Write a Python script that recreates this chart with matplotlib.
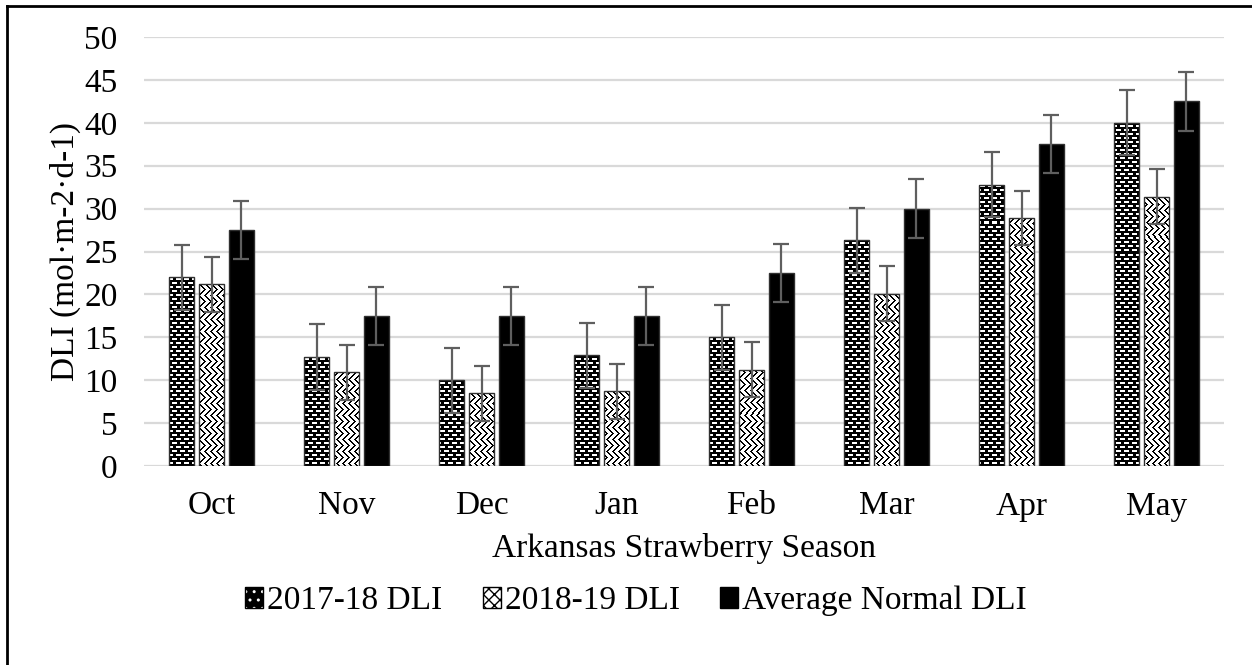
import numpy as np
import matplotlib
matplotlib.use('Agg')
import matplotlib.pyplot as plt
from matplotlib.patches import Rectangle
from matplotlib.lines import Line2D
from matplotlib.legend_handler import HandlerTuple

plt.rcParams['font.family'] = ['Liberation Serif', 'DejaVu Serif']

meses = ['Oct', 'Nov', 'Dec', 'Jan', 'Feb', 'Mar', 'Apr', 'May']
dli_1718 = [22.0, 12.7, 10.0, 12.9, 15.0, 26.3, 32.8, 40.0]
dli_1819 = [21.2, 10.9, 8.5, 8.7, 11.2, 20.1, 28.9, 31.4]
dli_normal = [27.5, 17.5, 17.5, 17.5, 22.5, 30.0, 37.5, 42.5]
erro_1718 = 3.8
erro_1819 = 3.2
erro_normal = 3.4
series = ['2017-18 DLI', '2018-19 DLI', 'Average Normal DLI']

LARGURA, ALTURA, DPI = 1252, 665, 100
fig = plt.figure(figsize=(LARGURA / DPI, ALTURA / DPI), dpi=DPI)
ax = fig.add_axes([144 / LARGURA, 1 - 466 / ALTURA, 1080 / LARGURA, 429 / ALTURA])

x = np.arange(len(meses))
larg = 0.185
passo = 0.222
ax.set_xlim(-0.5, len(meses) - 0.5)
ax.set_ylim(0, 50)

# texturas em pixels da area do grafico
H, W = 429, 1080
yy, xx = np.mgrid[0:H, 0:W]
tijolo = np.zeros((H, W))
linha = yy // 4
desloc = (linha % 2) * 4
tijolo[((yy % 4) >= 1) & ((yy % 4) <= 2) & (((xx + desloc) % 8) < 5)] = 1.0
faixa = (yy // 6) % 2
zigue = np.where(faixa == 0, (xx + yy) % 6 < 2, (xx - yy) % 6 < 2)
ziguezague = np.where(zigue, 0.0, 1.0)


def barras_texturizadas(pos, valores, textura):
    barras = ax.bar(pos, valores, larg, color='none', edgecolor='#303030',
                    linewidth=1.0, zorder=3)
    for b in barras:
        im = ax.imshow(textura, cmap='gray', vmin=0, vmax=1, aspect='auto',
                       interpolation='nearest', origin='upper',
                       extent=(-0.5, len(meses) - 0.5, 0, 50), zorder=2)
        im.set_clip_path(b)
    return barras


barras_texturizadas(x - passo, dli_1718, tijolo)
barras_texturizadas(x, dli_1819, ziguezague)
ax.bar(x + passo, dli_normal, larg, color='black', edgecolor='#303030',
       linewidth=1.0, zorder=3)

for pos, vals, err in [(x - passo, dli_1718, erro_1718),
                       (x, dli_1819, erro_1819),
                       (x + passo, dli_normal, erro_normal)]:
    ax.errorbar(pos, vals, yerr=err, fmt='none', ecolor='#5f5f5f',
                elinewidth=1.6, capsize=5.5, capthick=1.6, zorder=4)

ax.set_xlim(-0.5, len(meses) - 0.5)
ax.set_ylim(0, 50)
ax.set_yticks(np.arange(0, 51, 5))
ax.set_xticks(x)
ax.set_xticklabels(meses)
ax.yaxis.grid(True, color='#d9d9d9', linewidth=1.6)
ax.set_axisbelow(True)
for s in ax.spines.values():
    s.set_visible(False)
ax.tick_params(length=0, labelsize=24)
ax.tick_params(axis='y', pad=19)
ax.tick_params(axis='x', pad=18)
ax.set_xlabel('Arkansas Strawberry Season', fontsize=24, labelpad=8)
ax.set_ylabel('DLI (mol·m-2·d-1)', fontsize=24, labelpad=2)

# legenda com quadradinhos texturizados
h1 = (Rectangle((0, 0), 1, 1, facecolor='black', edgecolor='white', hatch='..', linewidth=0),
      Rectangle((0, 0), 1, 1, facecolor='none', edgecolor='black', linewidth=1))
h2 = (Rectangle((0, 0), 1, 1, facecolor='white', edgecolor='black', hatch='xxx', linewidth=0),
      Rectangle((0, 0), 1, 1, facecolor='none', edgecolor='black', linewidth=1))
h3 = Rectangle((0, 0), 1, 1, facecolor='black', edgecolor='black')
fig.legend([h1, h2, h3], series, loc='center', bbox_to_anchor=(636 / LARGURA, 1 - 601 / ALTURA),
           ncol=3, frameon=False, fontsize=24, handlelength=0.55, handleheight=0.55,
           handletextpad=0.12, columnspacing=1.2,
           handler_map={tuple: HandlerTuple(ndivide=1, pad=0)})

# moldura
fig.add_artist(Line2D([7 / LARGURA, 7 / LARGURA], [0, 1 - 6 / ALTURA], color='black', linewidth=2))
fig.add_artist(Line2D([7 / LARGURA, 1], [1 - 6 / ALTURA, 1 - 6 / ALTURA], color='black', linewidth=2))

fig.savefig('out.png', dpi=DPI)
